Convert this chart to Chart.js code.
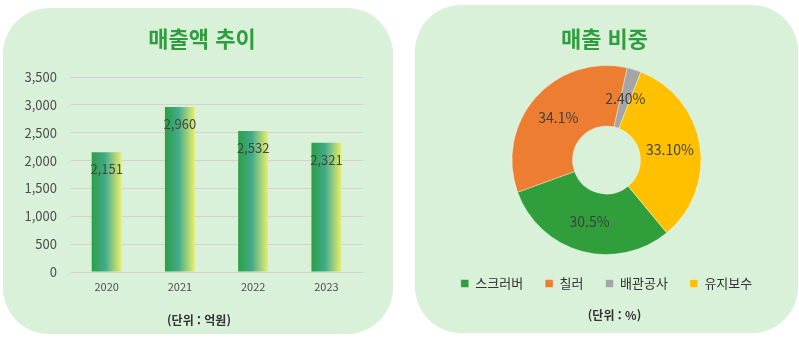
<!DOCTYPE html>
<html lang="ko">
<head>
<meta charset="utf-8">
<script src="https://cdn.jsdelivr.net/npm/chart.js@4"></script>
<style>
    body { margin: 0; background: #fff; width: 799px; height: 339px; position: relative; overflow: hidden;
           font-family: "Noto Sans CJK KR", "Noto Sans", sans-serif; }
    .panel { position: absolute; background: #d9f0d9; border-radius: 46px; }
    #leftPanel { left: 3px; top: 8px; width: 390px; height: 326px; }
    #rightPanel { left: 415px; top: 5px; width: 383px; height: 328px; }
    .title { position: absolute; left: 0; width: 100%; text-align: center; color: #2e9e3e;
             font-weight: 700; font-size: 22px; line-height: 26px; }
    .unit { position: absolute; left: 0; width: 100%; text-align: center; color: #333;
            font-weight: 700; font-size: 12px; line-height: 14px; }
    canvas { position: absolute; left: 0; top: 0; }
</style>
</head>
<body>
<div class="panel" id="leftPanel">
    <canvas id="salesTrendChart" width="390" height="326"></canvas>
    <div class="title" style="top:16px; left:4px;">매출액 추이</div>
    <div class="unit" style="top:305px; left:1px;">(단위 : 억원)</div>
</div>
<div class="panel" id="rightPanel">
    <canvas id="salesShareChart" width="383" height="328"></canvas>
    <div class="title" style="top:19px; left:-2px;">매출 비중</div>
    <div class="unit" style="top:303px; left:8px;">(단위 : %)</div>
</div>
<script>
const years = ['2020', '2021', '2022', '2023'];
const salesValues = [2151, 2960, 2532, 2321];
const yTicks = [0, 500, 1000, 1500, 2000, 2500, 3000, 3500];

const shareLabels = ['스크러버', '칠러', '배관공사', '유지보수'];
const shareValues = [30.5, 34.1, 2.4, 33.1];
const shareTexts = ['30.5%', '34.1%', '2.40%', '33.10%'];
const shareColors = ['#2f9e3b', '#ed7d31', '#a5a5a5', '#ffc000'];

const FONT = '"Noto Sans CJK KR", "Noto Sans", sans-serif';

// horizontal gradient on each bar + value text
const barDecor = {
    id: 'barDecor',
    beforeDatasetsDraw(chart) {
        const ctx = chart.ctx;
        chart.getDatasetMeta(0).data.forEach(bar => {
            const g = ctx.createLinearGradient(bar.x - bar.width / 2, 0, bar.x + bar.width / 2, 0);
            g.addColorStop(0, '#2b9f45');
            g.addColorStop(0.45, '#42aa8c');
            g.addColorStop(1, '#eaef6c');
            // options object is shared between bars, so give each bar its own copy
            bar.options = Object.assign({}, bar.options, { backgroundColor: g });
        });
    },
    afterDatasetsDraw(chart) {
        const ctx = chart.ctx;
        ctx.save();
        ctx.font = '13px ' + FONT;
        ctx.fillStyle = '#3d4a3d';
        ctx.textAlign = 'center';
        ctx.textBaseline = 'middle';
        chart.getDatasetMeta(0).data.forEach((bar, i) => {
            ctx.fillText(salesValues[i].toLocaleString('en-US'), bar.x, bar.y + 17);
        });
        ctx.restore();
    }
};

// percentage labels in the middle of each slice
const sliceLabels = {
    id: 'sliceLabels',
    afterDatasetsDraw(chart) {
        const ctx = chart.ctx;
        ctx.save();
        ctx.font = '14px ' + FONT;
        ctx.fillStyle = '#404040';
        ctx.textAlign = 'center';
        ctx.textBaseline = 'middle';
        chart.getDatasetMeta(0).data.forEach((arc, i) => {
            const p = arc.tooltipPosition();
            ctx.fillText(shareTexts[i], p.x, p.y);
        });
        ctx.restore();
    }
};

new Chart(document.getElementById('salesTrendChart'), {
    type: 'bar',
    data: {
        labels: years,
        datasets: [{
            data: salesValues,
            backgroundColor: '#42aa8c',
            barPercentage: 0.8,
            categoryPercentage: 0.51
        }]
    },
    options: {
        responsive: false,
        animation: false,
        layout: { padding: { left: 0, right: 30, top: 69, bottom: 12 } },
        plugins: { legend: { display: false }, tooltip: { enabled: false } },
        scales: {
            y: {
                min: 0,
                max: 3500,
                afterBuildTicks: axis => { axis.ticks = yTicks.map(v => ({ value: v })); },
                afterFit: axis => { axis.width = 67; },
                border: { display: false },
                grid: { color: '#d9cfcf', lineWidth: 1, drawTicks: false },
                ticks: {
                    padding: 13,
                    color: '#4d4d4d',
                    font: { family: FONT, size: 13 },
                    callback: v => v.toLocaleString('en-US')
                }
            },
            x: {
                afterFit: axis => { axis.height = 50; },
                border: { display: false },
                grid: { display: false, drawTicks: false },
                ticks: {
                    padding: 8,
                    color: '#4d4d4d',
                    font: { family: FONT, size: 11 }
                }
            }
        }
    },
    plugins: [barDecor]
});

new Chart(document.getElementById('salesShareChart'), {
    type: 'doughnut',
    data: {
        labels: shareLabels,
        datasets: [{
            data: shareValues,
            backgroundColor: shareColors,
            borderColor: 'rgba(255,255,255,0.35)',
            borderWidth: 1
        }]
    },
    options: {
        responsive: false,
        animation: false,
        rotation: 140.4,
        cutout: '36%',
        layout: { padding: { top: 60, bottom: 33, left: 0, right: 0 } },
        plugins: {
            tooltip: { enabled: false },
            legend: {
                position: 'bottom',
                labels: {
                    boxWidth: 8,
                    boxHeight: 8,
                    padding: 22,
                    color: '#333',
                    font: { family: FONT, size: 13 }
                }
            }
        }
    },
    plugins: [sliceLabels]
});
</script>
</body>
</html>
